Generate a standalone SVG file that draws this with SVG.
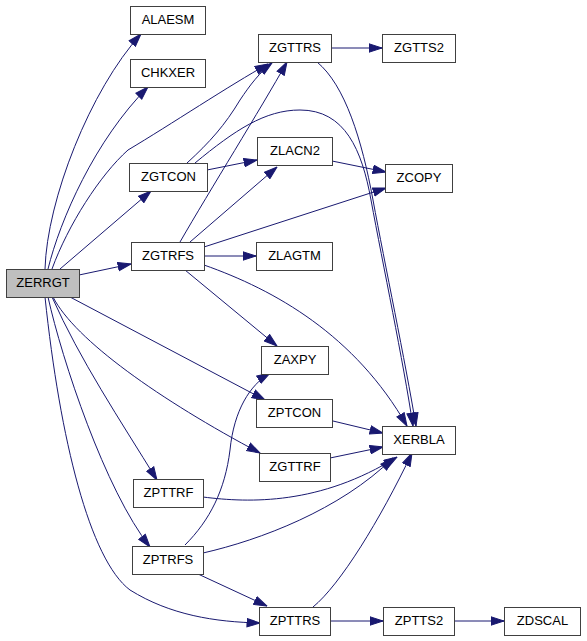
<svg xmlns="http://www.w3.org/2000/svg" width="587" height="641" viewBox="0 0 587 641">
<style>
.n rect{fill:#fff;stroke:#404040;stroke-width:1}
.n text{font-family:"Liberation Sans",Arial,sans-serif;font-size:13px;fill:#000;text-anchor:middle}
.e path{fill:none;stroke:#191970;stroke-width:1;marker-end:url(#a)}
</style>
<defs>
<marker id="a" markerUnits="userSpaceOnUse" markerWidth="14" markerHeight="10" viewBox="0 0 14 10" refX="13.5" refY="5" orient="auto">
<path d="M0.5,0.8 L13.5,5 L0.5,9.2 z" fill="#191970" stroke="#191970" stroke-width="1"/>
</marker>
</defs>
<rect width="587" height="641" fill="#fff"/>
<g id="edges" class="e">
<path d="M45,269 C47,200 90,90 141,34"/>
<path d="M48,269 C60,220 95,140 148,87"/>
<path d="M52,269 C68,225 100,175 128,150 C170,125 230,85 268,64"/>
<path d="M60,269 L151,191"/>
<path d="M79,275 L131,264"/>
<path d="M70,297 L265,400"/>
<path d="M53,297 C75,340 160,400 260,453"/>
<path d="M52,297 C80,360 120,420 157,480"/>
<path d="M48,297 C62,360 105,490 150,547"/>
<path d="M45,297 C60,440 90,560 130,590 C170,615 215,622 260,623"/>
<path d="M187,163 C210,142 225,125 240,100 C250,85 260,72 272,63"/>
<path d="M207,170 L257,160"/>
<path d="M195,163 C235,130 265,110 300,110 C345,110 362,150 371,200 C383,265 403,360 413,426"/>
<path d="M180,242 C210,190 260,110 287,62"/>
<path d="M190,242 L277,167"/>
<path d="M204,247 L386,188"/>
<path d="M204,256 L256,256"/>
<path d="M185,270 L277,346"/>
<path d="M204,265 C275,290 355,335 407,426"/>
<path d="M331,48 L382,48"/>
<path d="M317,62 C345,85 362,140 373,200 C385,265 405,360 416,426"/>
<path d="M332,161 L386,172"/>
<path d="M333,421 L383,433"/>
<path d="M330,458 L383,447"/>
<path d="M203,497 C250,503 320,505 397,457"/>
<path d="M203,553 C260,540 340,510 393,458"/>
<path d="M185,545 C210,520 225,490 230,450 C234,410 250,385 270,373"/>
<path d="M198,574 L267,606"/>
<path d="M313,607 C340,585 380,520 412,453"/>
<path d="M330,621 L383,621"/>
<path d="M454,621 L504,621"/>
</g>
<g id="ALAESM" class="n"><rect x="130.5" y="6.5" width="75" height="28"/><text x="168" y="24">ALAESM</text></g>
<g id="CHKXER" class="n"><rect x="130.5" y="59.5" width="75" height="28"/><text x="168" y="77">CHKXER</text></g>
<g id="ZGTTRS" class="n"><rect x="258.5" y="34.5" width="73" height="28"/><text x="295" y="52">ZGTTRS</text></g>
<g id="ZGTTS2" class="n"><rect x="382.5" y="34.5" width="73" height="28"/><text x="419" y="52">ZGTTS2</text></g>
<g id="ZLACN2" class="n"><rect x="257.5" y="137.5" width="75" height="28"/><text x="295" y="155">ZLACN2</text></g>
<g id="ZGTCON" class="n"><rect x="129.5" y="163.5" width="78" height="28"/><text x="168.5" y="181">ZGTCON</text></g>
<g id="ZCOPY" class="n"><rect x="385.5" y="164.5" width="67" height="28"/><text x="419" y="182">ZCOPY</text></g>
<g id="ZGTRFS" class="n"><rect x="131.5" y="242.5" width="73" height="28"/><text x="168" y="260">ZGTRFS</text></g>
<g id="ZLAGTM" class="n"><rect x="256.5" y="242.5" width="76" height="28"/><text x="294.5" y="260">ZLAGTM</text></g>
<g id="ZERRGT" class="n"><rect x="6.5" y="269.5" width="73" height="28" style="fill:#bfbfbf"/><text x="43" y="287">ZERRGT</text></g>
<g id="ZAXPY" class="n"><rect x="261.5" y="346.5" width="67" height="28"/><text x="295" y="364">ZAXPY</text></g>
<g id="ZPTCON" class="n"><rect x="256.5" y="399.5" width="76" height="28"/><text x="294.5" y="417">ZPTCON</text></g>
<g id="XERBLA" class="n"><rect x="382.5" y="426.5" width="73" height="28"/><text x="419" y="444">XERBLA</text></g>
<g id="ZGTTRF" class="n"><rect x="259.5" y="453.5" width="71" height="28"/><text x="295" y="471">ZGTTRF</text></g>
<g id="ZPTTRF" class="n"><rect x="133.5" y="479.5" width="70" height="28"/><text x="168.5" y="497">ZPTTRF</text></g>
<g id="ZPTRFS" class="n"><rect x="132.5" y="546.5" width="71" height="28"/><text x="168" y="564">ZPTRFS</text></g>
<g id="ZPTTRS" class="n"><rect x="259.5" y="607.5" width="71" height="28"/><text x="295" y="625">ZPTTRS</text></g>
<g id="ZPTTS2" class="n"><rect x="383.5" y="607.5" width="71" height="28"/><text x="419" y="625">ZPTTS2</text></g>
<g id="ZDSCAL" class="n"><rect x="504.5" y="607.5" width="76" height="28"/><text x="542.5" y="625">ZDSCAL</text></g>
</svg>
